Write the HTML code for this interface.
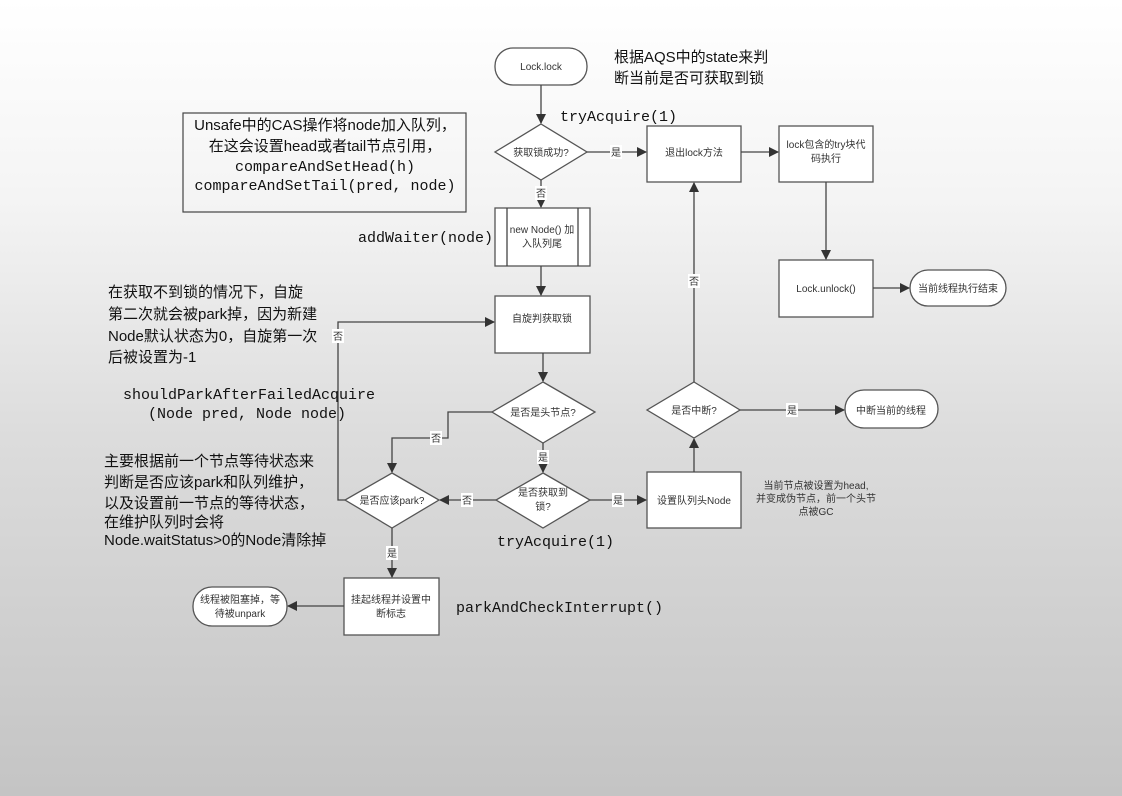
<!DOCTYPE html>
<html><head><meta charset="utf-8"><style>
html,body{margin:0;padding:0;}
body{width:1122px;height:796px;overflow:hidden;background:linear-gradient(#ffffff 0%,#f4f4f4 25%,#dcdcdc 55%,#c4c4c4 100%);}
svg{display:block}
.s{font-family:"Liberation Sans","Noto Sans CJK SC",sans-serif;font-size:10px;fill:#333;}
.m{font-family:"Liberation Mono","DejaVu Sans Mono",monospace;font-size:15px;fill:#111;}
.c{font-family:"Liberation Sans","Noto Sans CJK SC",sans-serif;font-size:15px;fill:#111;}
.sh{fill:#fff;stroke:#555;stroke-width:1.3;}
.ln{stroke:#444;stroke-width:1.3;fill:none;}
.lb{fill:#fff;}
</style></head><body>
<svg width="1122" height="796" viewBox="0 0 1122 796">
<defs><marker id="a" markerWidth="10" markerHeight="10" refX="9" refY="5" orient="auto" markerUnits="userSpaceOnUse"><path d="M0,0 L10,5 L0,10 z" fill="#333"/></marker></defs>

<!-- shapes -->
<rect class="sh" x="495" y="48" width="92" height="37" rx="18"/>
<polygon class="sh" points="541,124 587,152 541,180 495,152"/>
<rect class="sh" x="647" y="126" width="94" height="56"/>
<rect class="sh" x="779" y="126" width="94" height="56"/>
<rect class="sh" x="779" y="260" width="94" height="57"/>
<rect class="sh" x="910" y="270" width="96" height="36" rx="18"/>
<rect class="sh" x="495" y="208" width="95" height="58"/>
<line class="ln" x1="507" y1="208" x2="507" y2="266"/><line class="ln" x1="578" y1="208" x2="578" y2="266"/>
<rect class="sh" x="495" y="296" width="95" height="57"/>
<polygon class="sh" points="543,382 595,412 543,443 492,412"/>
<polygon class="sh" points="543,473 590,500 543,528 496,500"/>
<polygon class="sh" points="392,473 439,500 392,528 345,500"/>
<rect class="sh" x="344" y="578" width="95" height="57"/>
<rect class="sh" x="193" y="587" width="94" height="39" rx="19"/>
<polygon class="sh" points="694,382 740,410 694,438 647,410"/>
<rect class="sh" x="647" y="472" width="94" height="56"/>
<rect class="sh" x="845" y="390" width="93" height="38" rx="19"/>
<rect x="183" y="113" width="283" height="99" fill="none" stroke="#444" stroke-width="1.2"/>

<!-- connectors -->
<line class="ln" x1="541" y1="85" x2="541" y2="123" marker-end="url(#a)"/>
<line class="ln" x1="587" y1="152" x2="646" y2="152" marker-end="url(#a)"/>
<line class="ln" x1="741" y1="152" x2="778" y2="152" marker-end="url(#a)"/>
<line class="ln" x1="826" y1="182" x2="826" y2="259" marker-end="url(#a)"/>
<line class="ln" x1="873" y1="288" x2="909" y2="288" marker-end="url(#a)"/>
<line class="ln" x1="541" y1="180" x2="541" y2="207" marker-end="url(#a)"/>
<line class="ln" x1="541" y1="266" x2="541" y2="295" marker-end="url(#a)"/>
<line class="ln" x1="543" y1="353" x2="543" y2="381" marker-end="url(#a)"/>
<line class="ln" x1="543" y1="443" x2="543" y2="472" marker-end="url(#a)"/>
<polyline class="ln" points="492,412 448,412 448,438 392,438 392,472" marker-end="url(#a)"/>
<line class="ln" x1="496" y1="500" x2="440" y2="500" marker-end="url(#a)"/>
<line class="ln" x1="590" y1="500" x2="646" y2="500" marker-end="url(#a)"/>
<polyline class="ln" points="345,500 338,500 338,322 494,322" marker-end="url(#a)"/>
<line class="ln" x1="392" y1="528" x2="392" y2="577" marker-end="url(#a)"/>
<line class="ln" x1="344" y1="606" x2="288" y2="606" marker-end="url(#a)"/>
<line class="ln" x1="694" y1="472" x2="694" y2="439" marker-end="url(#a)"/>
<line class="ln" x1="694" y1="382" x2="694" y2="183" marker-end="url(#a)"/>
<line class="ln" x1="740" y1="410" x2="844" y2="410" marker-end="url(#a)"/>

<!-- connector labels -->
<rect class="lb" x="610" y="145" width="12" height="14"/><text class="s" x="616" y="156" text-anchor="middle">是</text>
<rect class="lb" x="535" y="186" width="12" height="14"/><text class="s" x="541" y="197" text-anchor="middle">否</text>
<rect class="lb" x="430" y="431" width="12" height="14"/><text class="s" x="436" y="442" text-anchor="middle">否</text>
<rect class="lb" x="537" y="450" width="12" height="14"/><text class="s" x="543" y="461" text-anchor="middle">是</text>
<rect class="lb" x="461" y="493" width="12" height="14"/><text class="s" x="467" y="504" text-anchor="middle">否</text>
<rect class="lb" x="612" y="493" width="12" height="14"/><text class="s" x="618" y="504" text-anchor="middle">是</text>
<rect class="lb" x="332" y="329" width="12" height="14"/><text class="s" x="338" y="340" text-anchor="middle">否</text>
<rect class="lb" x="386" y="546" width="12" height="14"/><text class="s" x="392" y="557" text-anchor="middle">是</text>
<rect class="lb" x="688" y="274" width="12" height="14"/><text class="s" x="694" y="285" text-anchor="middle">否</text>
<rect class="lb" x="786" y="403" width="12" height="14"/><text class="s" x="792" y="414" text-anchor="middle">是</text>

<!-- shape texts -->
<text class="s" x="541" y="70" text-anchor="middle">Lock.lock</text>
<text class="s" x="541" y="156" text-anchor="middle">获取锁成功?</text>
<text class="s" x="694" y="156" text-anchor="middle">退出lock方法</text>
<text class="s" x="826" y="148" text-anchor="middle">lock包含的try块代</text>
<text class="s" x="826" y="162" text-anchor="middle">码执行</text>
<text class="s" x="826" y="292" text-anchor="middle">Lock.unlock()</text>
<text class="s" x="958" y="292" text-anchor="middle">当前线程执行结束</text>
<text class="s" x="542" y="233" text-anchor="middle">new Node() 加</text>
<text class="s" x="542" y="247" text-anchor="middle">入队列尾</text>
<text class="s" x="542" y="322" text-anchor="middle">自旋判获取锁</text>
<text class="s" x="543" y="416" text-anchor="middle">是否是头节点?</text>
<text class="s" x="543" y="496" text-anchor="middle">是否获取到</text>
<text class="s" x="543" y="510" text-anchor="middle">锁?</text>
<text class="s" x="392" y="504" text-anchor="middle">是否应该park?</text>
<text class="s" x="391" y="603" text-anchor="middle">挂起线程并设置中</text>
<text class="s" x="391" y="617" text-anchor="middle">断标志</text>
<text class="s" x="240" y="603" text-anchor="middle">线程被阻塞掉，等</text>
<text class="s" x="240" y="617" text-anchor="middle">待被unpark</text>
<text class="s" x="694" y="414" text-anchor="middle">是否中断?</text>
<text class="s" x="694" y="504" text-anchor="middle">设置队列头Node</text>
<text class="s" x="891" y="414" text-anchor="middle">中断当前的线程</text>
<text class="s" x="816" y="489" text-anchor="middle">当前节点被设置为head,</text>
<text class="s" x="816" y="502" text-anchor="middle">并变成伪节点，前一个头节</text>
<text class="s" x="816" y="515" text-anchor="middle">点被GC</text>

<!-- annotations -->
<text class="c" x="614" y="62">根据AQS中的state来判</text>
<text class="c" x="614" y="83">断当前是否可获取到锁</text>
<text class="m" x="560" y="121">tryAcquire(1)</text>
<text class="c" x="325" y="130" text-anchor="middle">Unsafe中的CAS操作将node加入队列，</text>
<text class="c" x="325" y="151" text-anchor="middle">在这会设置head或者tail节点引用，</text>
<text class="m" x="325" y="171" text-anchor="middle">compareAndSetHead(h)</text>
<text class="m" x="325" y="190" text-anchor="middle">compareAndSetTail(pred, node)</text>
<text class="m" x="358" y="242">addWaiter(node)</text>
<text class="c" x="108" y="297">在获取不到锁的情况下，自旋</text>
<text class="c" x="108" y="319">第二次就会被park掉，因为新建</text>
<text class="c" x="108" y="341">Node默认状态为0，自旋第一次</text>
<text class="c" x="108" y="362">后被设置为-1</text>
<text class="m" x="123" y="399">shouldParkAfterFailedAcquire</text>
<text class="m" x="148" y="418">(Node pred, Node node)</text>
<text class="c" x="104" y="466">主要根据前一个节点等待状态来</text>
<text class="c" x="104" y="487">判断是否应该park和队列维护，</text>
<text class="c" x="104" y="508">以及设置前一节点的等待状态，</text>
<text class="c" x="104" y="527">在维护队列时会将</text>
<text class="c" x="104" y="545">Node.waitStatus&gt;0的Node清除掉</text>
<text class="m" x="497" y="546">tryAcquire(1)</text>
<text class="m" x="456" y="612">parkAndCheckInterrupt()</text>
</svg>
</body></html>
